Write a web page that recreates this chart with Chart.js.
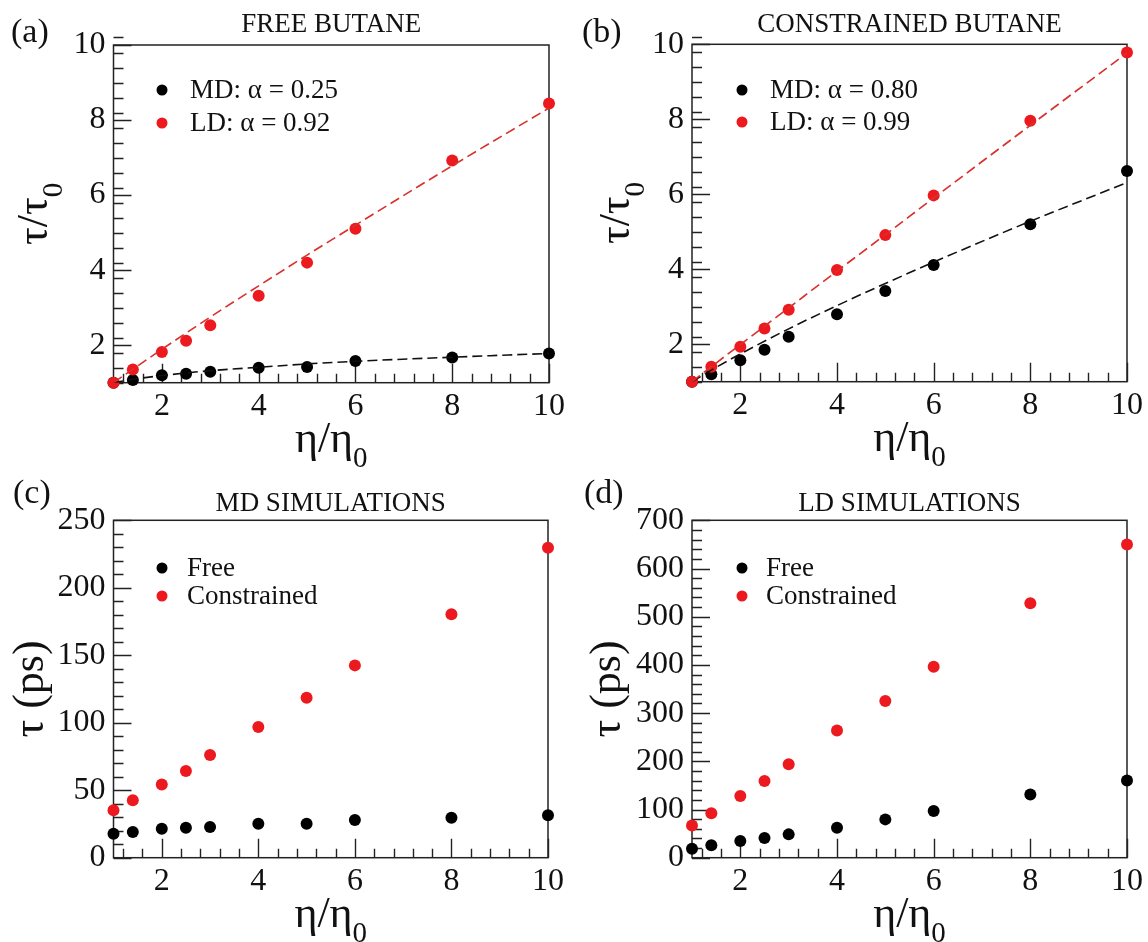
<!DOCTYPE html>
<html>
<head>
<meta charset="utf-8">
<title>Rotational relaxation of butane vs. solvent viscosity</title>
<script src="https://cdn.jsdelivr.net/npm/chart.js@4.4.1/dist/chart.umd.min.js"></script>
<style>
  html, body { margin: 0; padding: 0; background: #ffffff; }
  #figure { position: relative; width: 1148px; height: 942px; overflow: hidden; }
  .panel { position: absolute; width: 574px; height: 471px; }
  .panel canvas { display: block; }
</style>
</head>
<body>
<div id="figure">
  <div class="panel" style="left:0;top:0"><canvas id="panelA" width="574" height="471"></canvas></div>
  <div class="panel" style="left:574px;top:0"><canvas id="panelB" width="574" height="471"></canvas></div>
  <div class="panel" style="left:0;top:471px"><canvas id="panelC" width="574" height="471"></canvas></div>
  <div class="panel" style="left:574px;top:471px"><canvas id="panelD" width="574" height="471"></canvas></div>
</div>
<script>
// ---- data -------------------------------------------------------------
// relative viscosity eta/eta0 at which each simulation was run
const viscosity = [1, 1.4, 2, 2.5, 3, 4, 5, 6, 8, 10];

// (a) free butane, normalised relaxation time tau/tau0
const freeMD = [1.0, 1.07, 1.20, 1.24, 1.29, 1.40, 1.42, 1.58, 1.67, 1.78];
const freeLD = [1.0, 1.35, 1.82, 2.12, 2.53, 3.32, 4.20, 5.10, 6.92, 8.44];

// (b) constrained butane, tau/tau0
const constrainedMD = [1.0, 1.20, 1.57, 1.85, 2.20, 2.80, 3.42, 4.11, 5.20, 6.62];
const constrainedLD = [1.0, 1.40, 1.93, 2.42, 2.92, 3.98, 4.91, 5.97, 7.96, 9.78];

// power-law fits (dashed curves), sampled at these viscosities
const fitViscosity = [1, 1.4, 2, 3, 4, 5, 6, 8, 10];
const freeMDFit = [1.0, 1.09, 1.19, 1.32, 1.41, 1.50, 1.57, 1.68, 1.78];
const freeLDFit = [1.0, 1.36, 1.89, 2.75, 3.58, 4.40, 5.20, 6.78, 8.32];
const constrainedMDFit = [1.0, 1.31, 1.74, 2.41, 3.03, 3.62, 4.19, 5.28, 6.31];
const constrainedLDFit = [1.0, 1.40, 1.99, 2.97, 3.95, 4.92, 5.90, 7.84, 9.77];

// (c) MD simulations, tau in ps
const mdFreePs = [17.8, 19.0, 21.5, 22.2, 22.7, 25.2, 25.2, 27.9, 29.6, 31.4];
const mdConstrainedPs = [35.1, 42.5, 54.3, 64.2, 76.1, 96.8, 118.6, 142.5, 180.3, 229.7];

// (d) LD simulations, tau in ps
const ldFreePs = [18.7, 26, 34.6, 40.8, 48.4, 62, 79.5, 97, 131, 160];
const ldConstrainedPs = [67, 92, 128, 159, 194, 264, 325, 396, 528, 650];

// tick labels
const xTickValues = [2, 4, 6, 8, 10];
const ratioTickValues = [2, 4, 6, 8, 10];
const mdPsTickValues = [0, 50, 100, 150, 200, 250];
const ldPsTickValues = [0, 100, 200, 300, 400, 500, 600, 700];

// ---- styling ----------------------------------------------------------
const SERIF = '"Liberation Serif", "Times New Roman", serif';
const RED = '#ec1a1f';
const RED_LINE = '#d8302c';
const BLACK = '#000000';
const AXIS = '#222222';
const TICK_PX = 32;
const TITLE_PX = 44;
const SUB_PX = 29;
const HEAD_PX = 27;
const KEY_PX = 27;

function pts(xs, ys) { return xs.map((x, i) => ({ x: x, y: ys[i] })); }

function minorSteps(min, max, step, majors) {
  const out = [];
  const n = Math.round((max - min) / step);
  for (let i = 0; i <= n; i++) {
    const v = +(min + i * step).toFixed(6);
    if (!majors.some(m => Math.abs(m - v) < 1e-6)) out.push(v);
  }
  return out;
}

function drawSubbed(ctx, main, sub, cx, baseline, mainPx, subPx, drop) {
  ctx.font = mainPx + 'px ' + SERIF;
  const wm = ctx.measureText(main).width;
  ctx.font = subPx + 'px ' + SERIF;
  const ws = sub ? ctx.measureText(sub).width : 0;
  const x0 = cx - (wm + ws) / 2;
  ctx.textAlign = 'left';
  ctx.textBaseline = 'alphabetic';
  ctx.font = mainPx + 'px ' + SERIF;
  ctx.fillText(main, x0, baseline);
  if (sub) {
    ctx.font = subPx + 'px ' + SERIF;
    ctx.fillText(sub, x0 + wm, baseline + drop);
  }
}

// Frame, inward tick marks, panel letter, heading, axis titles and key
const panelDeco = {
  id: 'panelDeco',
  beforeDatasetsDraw(chart, args, o) {
    const ctx = chart.ctx;
    const a = chart.chartArea;
    const xs = chart.scales.x, ys = chart.scales.y;
    ctx.save();
    ctx.strokeStyle = AXIS;
    ctx.lineWidth = 1.5;
    ctx.strokeRect(a.left, a.top, a.right - a.left, a.bottom - a.top);
    ctx.lineWidth = 1.4;
    ctx.beginPath();
    o.xMajor.forEach(v => {
      const px = Math.round(xs.getPixelForValue(v)) + 0.5;
      ctx.moveTo(px, a.bottom); ctx.lineTo(px, a.bottom - 19);
    });
    o.xMinor.forEach(v => {
      const px = Math.round(xs.getPixelForValue(v)) + 0.5;
      ctx.moveTo(px, a.bottom); ctx.lineTo(px, a.bottom - 9);
    });
    o.yMajor.forEach(v => {
      const py = Math.round(ys.getPixelForValue(v)) + 0.5;
      ctx.moveTo(a.left, py); ctx.lineTo(a.left + 18, py);
    });
    o.yMinor.forEach(v => {
      const py = Math.round(ys.getPixelForValue(v)) + 0.5;
      ctx.moveTo(a.left, py); ctx.lineTo(a.left + 10, py);
    });
    ctx.stroke();
    ctx.restore();
  },
  afterDraw(chart, args, o) {
    const ctx = chart.ctx;
    const a = chart.chartArea;
    ctx.save();
    ctx.fillStyle = '#111111';

    // panel letter
    ctx.font = '34px ' + SERIF;
    ctx.textAlign = 'left';
    ctx.textBaseline = 'alphabetic';
    ctx.fillText(o.letter, o.letterX, o.letterY);

    // heading
    ctx.font = HEAD_PX + 'px ' + SERIF;
    ctx.textAlign = 'center';
    ctx.fillText(o.heading, (a.left + a.right) / 2, o.headingY);

    // x title
    drawSubbed(ctx, 'η/η', '0', (a.left + a.right) / 2, a.bottom + 69, TITLE_PX, SUB_PX, 15);

    // y title (rotated)
    ctx.save();
    ctx.translate(o.yTitleX, (a.top + a.bottom) / 2);
    ctx.rotate(-Math.PI / 2);
    drawSubbed(ctx, o.yTitle, o.yTitleSub, 0, 0, TITLE_PX, SUB_PX, 15);
    ctx.restore();

    // key
    o.key.forEach((k, i) => {
      const y = o.keyY[i];
      ctx.beginPath();
      ctx.fillStyle = k.color;
      ctx.arc(o.keyDotX, y, 5.5, 0, Math.PI * 2);
      ctx.fill();
      ctx.fillStyle = '#111111';
      ctx.font = KEY_PX + 'px ' + SERIF;
      ctx.textAlign = 'left';
      ctx.textBaseline = 'alphabetic';
      ctx.fillText(k.label, o.keyTextX, y + 8);
    });
    ctx.restore();
  }
};

function makePanel(id, p) {
  const datasets = [];
  p.series.forEach((s, i) => {
    datasets.push({
      label: s.label,
      data: pts(viscosity, s.values),
      showLine: false,
      pointRadius: 6,
      pointHoverRadius: 6,
      pointBackgroundColor: s.color,
      pointBorderWidth: 0,
      borderColor: s.color,
      backgroundColor: s.color,
      clip: false,
      order: 10 - i
    });
  });
  (p.fits || []).forEach((f, i) => {
    datasets.push({
      label: f.label,
      data: pts(fitViscosity, f.values),
      showLine: true,
      pointRadius: 0,
      borderColor: f.color,
      borderWidth: 1.6,
      borderDash: [10, 5],
      cubicInterpolationMode: 'monotone',
      fill: false,
      order: 2 - i
    });
  });

  const yMin = p.yRange[0], yMax = p.yRange[1];
  return new Chart(document.getElementById(id), {
    type: 'scatter',
    data: { datasets: datasets },
    options: {
      responsive: false,
      animation: false,
      devicePixelRatio: 1,
      events: [],
      layout: { padding: { top: p.box.top, right: 574 - p.box.right, left: 0, bottom: 0 } },
      plugins: {
        legend: { display: false },
        tooltip: { enabled: false },
        title: { display: false },
        panelDeco: {
          letter: p.letter, letterX: p.letterX, letterY: p.letterY,
          heading: p.heading, headingY: p.headingY,
          yTitle: p.yTitle, yTitleSub: p.yTitleSub, yTitleX: p.yTitleX,
          key: p.series.map(s => ({ label: s.label, color: s.color })),
          keyDotX: p.keyDotX, keyTextX: p.keyTextX, keyY: p.keyY,
          xMajor: xTickValues,
          xMinor: minorSteps(1.2, 9.6, 0.4, xTickValues),
          yMajor: p.yTicks,
          yMinor: minorSteps(yMin, yMax, p.yMinorStep, p.yTicks)
        }
      },
      scales: {
        x: {
          type: 'linear',
          min: 1, max: 10,
          grid: { display: false, drawTicks: false },
          border: { display: false },
          ticks: { font: { family: SERIF, size: TICK_PX }, color: '#111111', padding: 5, maxRotation: 0, autoSkip: false },
          afterBuildTicks: s => { s.ticks = xTickValues.map(v => ({ value: v })); },
          afterFit: s => { s.height = 471 - p.box.bottom; }
        },
        y: {
          type: 'linear',
          min: yMin, max: yMax,
          grid: { display: false, drawTicks: false },
          border: { display: false },
          ticks: { font: { family: SERIF, size: TICK_PX }, color: '#111111', padding: 8, autoSkip: false },
          afterBuildTicks: s => { s.ticks = p.yTicks.map(v => ({ value: v })); },
          afterFit: s => { s.width = p.box.left; }
        }
      }
    },
    plugins: [panelDeco]
  });
}

makePanel('panelA', {
  letter: '(a)', letterX: 11, letterY: 42,
  heading: 'FREE BUTANE', headingY: 32,
  box: { left: 113.5, right: 549, top: 45, bottom: 382.7 },
  yRange: [1, 10], yTicks: ratioTickValues, yMinorStep: 0.4,
  yTitle: 'τ/τ', yTitleSub: '0', yTitleX: 47,
  keyDotX: 162, keyTextX: 190, keyY: [90, 123],
  series: [
    { label: 'MD: α = 0.25', values: freeMD, color: BLACK },
    { label: 'LD: α = 0.92', values: freeLD, color: RED }
  ],
  fits: [
    { label: 'MD fit', values: freeMDFit, color: '#111111' },
    { label: 'LD fit', values: freeLDFit, color: RED_LINE }
  ]
});

makePanel('panelB', {
  letter: '(b)', letterX: 8, letterY: 42,
  heading: 'CONSTRAINED BUTANE', headingY: 32,
  box: { left: 118, right: 553.4, top: 44.3, bottom: 381.7 },
  yRange: [1, 10], yTicks: ratioTickValues, yMinorStep: 0.4,
  yTitle: 'τ/τ', yTitleSub: '0', yTitleX: 55,
  keyDotX: 168, keyTextX: 196, keyY: [90, 122],
  series: [
    { label: 'MD: α = 0.80', values: constrainedMD, color: BLACK },
    { label: 'LD: α = 0.99', values: constrainedLD, color: RED }
  ],
  fits: [
    { label: 'MD fit', values: constrainedMDFit, color: '#111111' },
    { label: 'LD fit', values: constrainedLDFit, color: RED_LINE }
  ]
});

makePanel('panelC', {
  letter: '(c)', letterX: 13, letterY: 32,
  heading: 'MD SIMULATIONS', headingY: 40,
  box: { left: 113.5, right: 548, top: 49.3, bottom: 386.7 },
  yRange: [0, 250], yTicks: mdPsTickValues, yMinorStep: 10,
  yTitle: 'τ (ps)', yTitleSub: '', yTitleX: 43,
  keyDotX: 162, keyTextX: 187, keyY: [97, 125],
  series: [
    { label: 'Free', values: mdFreePs, color: BLACK },
    { label: 'Constrained', values: mdConstrainedPs, color: RED }
  ]
});

makePanel('panelD', {
  letter: '(d)', letterX: 10, letterY: 32,
  heading: 'LD SIMULATIONS', headingY: 40,
  box: { left: 118, right: 553.4, top: 49.3, bottom: 386.7 },
  yRange: [0, 700], yTicks: ldPsTickValues, yMinorStep: 20,
  yTitle: 'τ (ps)', yTitleSub: '', yTitleX: 46,
  keyDotX: 168, keyTextX: 192, keyY: [97, 125],
  series: [
    { label: 'Free', values: ldFreePs, color: BLACK },
    { label: 'Constrained', values: ldConstrainedPs, color: RED }
  ]
});
</script>
</body>
</html>
